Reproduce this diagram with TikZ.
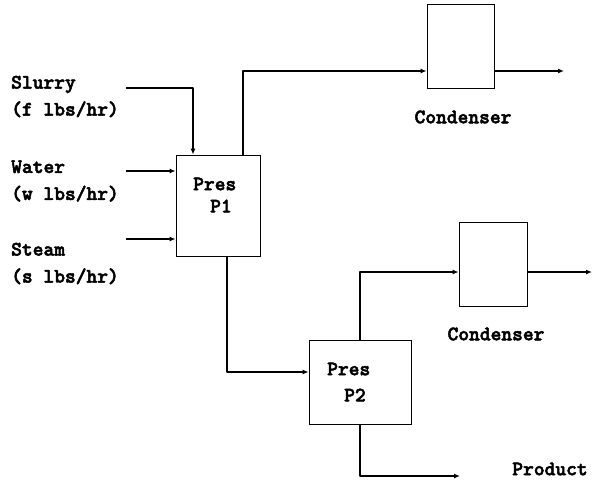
\documentclass[tikz,border=0pt]{standalone}
\usepackage{fontspec}
\newfontfamily\lbfont{lmmonolt10-bold.otf}[FakeBold=2.5]
\usetikzlibrary{arrows.meta}
\begin{document}
\begin{tikzpicture}[x=1pt,y=-1pt,
  lbl/.style={font=\lbfont\fontsize{20.5}{27}\selectfont, inner sep=0pt},
  unit/.style={draw, line width=0.8pt, inner sep=0pt},
  flow/.style={line width=2.2pt, -{Latex[length=6pt,width=5pt]}, line join=round},
]
\useasboundingbox (0,0) rectangle (593,484);
% units
\node[unit, minimum width=84pt, minimum height=101pt] (P1) at (218,205.5) {};
\node[unit, minimum width=102pt, minimum height=84pt] (P2) at (360,382) {};
\node[unit, minimum width=67pt, minimum height=84pt] (C1) at (460.5,46) {};
\node[unit, minimum width=68pt, minimum height=84pt] (C2) at (493,264) {};
% unit texts
\node[lbl, anchor=west] (p1a) at (193,184) {Pres};
\node[lbl, anchor=west] (p1b) at (210,206) {P1};
\node[lbl, anchor=west] (p2a) at (327,369) {Pres};
\node[lbl, anchor=west] (p2b) at (344,395) {P2};
\node[lbl] (c1l) at (463,117) {Condenser};
\node[lbl] (c2l) at (496,334) {Condenser};
\node[lbl] (prod) at (550,469) {Product};
% inputs
\node[lbl, anchor=west, align=left] (slurry) at (11,96.5) {Slurry\\(f lbs/hr)};
\node[lbl, anchor=west, align=left] (water) at (11,181) {Water\\(w lbs/hr)};
\node[lbl, anchor=west, align=left] (steam) at (11,263.5) {Steam\\(s lbs/hr)};
% free ends
\coordinate (sin) at (126,88);
\coordinate (win) at (126,171);
\coordinate (stin) at (126,239);
\coordinate (o1) at (564,71);
\coordinate (o2) at (592,272);
\coordinate (po) at (460,476);
% connectors
\draw[flow] (sin) -| (P1.north west -| 193,0);
\draw[flow] (win) -- (P1.west |- win);
\draw[flow] (stin) -- (P1.west |- stin);
\draw[flow] (P1.north west -| 243,0) |- (C1.west |- 0,71);
\draw[flow] (C1.east |- o1) -- (o1);
\draw[flow] (P1.south west -| 227,0) |- (P2.west |- 0,372);
\draw[flow] (P2.north west -| 360,0) |- (C2.west |- 0,272);
\draw[flow] (C2.east |- o2) -- (o2);
\draw[flow] (P2.south west -| 360,0) |- (po);
\end{tikzpicture}
\end{document}
